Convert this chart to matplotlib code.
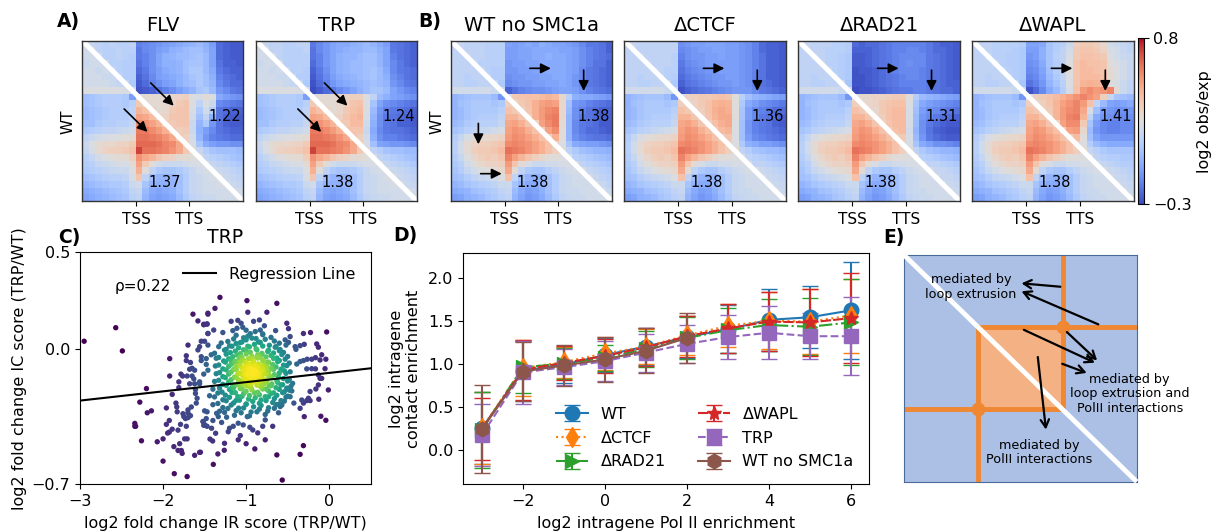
import numpy as np
import matplotlib
matplotlib.use("Agg")
import matplotlib.pyplot as plt
from matplotlib.cm import ScalarMappable
from matplotlib.colors import Normalize

W, H = 1217, 531

# contact maps, log2 obs/exp x100, 24 x 24 bins. lower = rows incl. diagonal, upper = right of diagonal
lower_a = [
    [22],
    [20, 22],
    [20, 20, 22],
    [18, 20, 20, 20],
    [20, 20, 18, 20, 18],
    [20, 20, 20, 18, 18, 18],
    [20, 20, 20, 20, 18, 16, 16],
    [24, 24, 24, 24, 24, 24, 22, 20],
    [4, 6, 8, 10, 10, 10, 8, -8, 22],
    [4, 6, 8, 10, 10, 10, 8, 12, 36, 30],
    [2, 4, 6, 8, 10, 10, 10, 14, 44, 40, 34],
    [2, 4, 6, 8, 10, 10, 10, 14, 50, 48, 42, 34],
    [4, 4, 8, 10, 10, 12, 12, 16, 56, 54, 50, 44, 36],
    [8, 10, 12, 14, 14, 16, 18, 20, 60, 60, 56, 52, 46, 38],
    [14, 18, 20, 22, 24, 24, 26, 28, 62, 62, 60, 58, 54, 48, 38],
    [18, 24, 28, 30, 30, 32, 32, 36, 64, 64, 64, 62, 58, 56, 48, 36],
    [16, 22, 28, 32, 34, 34, 36, 40, 72, 62, 62, 60, 58, 54, 48, 36, 30],
    [12, 16, 20, 24, 26, 28, 28, 34, 54, 48, 44, 38, 34, 32, 28, 28, 26, 24],
    [10, 12, 16, 18, 20, 22, 22, 28, 50, 36, 26, 20, 18, 18, 18, 20, 22, 22, 22],
    [8, 10, 12, 14, 16, 18, 18, 24, 46, 26, 14, 8, 6, 6, 8, 12, 16, 20, 22, 22],
    [4, 6, 8, 10, 12, 12, 14, 22, 38, 14, 4, 0, 0, 0, 4, 10, 16, 18, 20, 22, 22],
    [0, 2, 4, 6, 8, 8, 10, 18, 20, 6, 0, -2, -2, 0, 4, 10, 16, 18, 20, 20, 22, 22],
    [-4, -2, 0, 2, 4, 6, 8, 14, 16, 2, -4, -6, -4, -2, 4, 10, 16, 18, 20, 20, 20, 20, 22],
    [-6, -4, -2, 0, 2, 4, 6, 12, 14, 0, -6, -8, -6, -4, 2, 8, 14, 16, 18, 18, 20, 20, 20, 22],
]
lower_b = [
    [16],
    [14, 16],
    [14, 14, 16],
    [14, 14, 14, 16],
    [14, 14, 14, 14, 16],
    [14, 14, 12, 14, 14, 16],
    [14, 14, 12, 12, 14, 14, 18],
    [20, 20, 20, 20, 20, 20, 18, 18],
    [0, 2, 4, 6, 6, 6, 2, -10, 24],
    [0, 4, 6, 8, 8, 8, 6, 8, 34, 30],
    [0, 2, 6, 8, 8, 8, 8, 12, 40, 36, 32],
    [0, 2, 6, 8, 10, 10, 10, 14, 44, 44, 38, 32],
    [2, 4, 8, 10, 12, 12, 12, 16, 48, 50, 46, 38, 32],
    [6, 8, 12, 14, 16, 18, 20, 22, 50, 54, 52, 46, 40, 34],
    [10, 16, 22, 26, 28, 30, 30, 32, 52, 56, 54, 50, 46, 40, 34],
    [12, 20, 28, 32, 34, 34, 36, 38, 56, 58, 56, 54, 50, 46, 40, 32],
    [12, 20, 28, 34, 36, 36, 38, 42, 62, 60, 58, 54, 50, 46, 40, 34, 28],
    [10, 16, 24, 30, 34, 36, 34, 38, 58, 50, 44, 38, 34, 30, 26, 26, 24, 24],
    [8, 12, 20, 26, 30, 32, 32, 34, 52, 38, 28, 22, 18, 18, 20, 20, 22, 22, 22],
    [6, 10, 16, 20, 24, 26, 28, 30, 48, 28, 14, 8, 6, 6, 10, 14, 18, 20, 22, 22],
    [4, 6, 10, 14, 16, 18, 20, 24, 40, 14, 4, 0, -2, 0, 4, 10, 16, 18, 20, 20, 22],
    [0, 2, 6, 8, 10, 12, 14, 18, 18, 6, 0, -4, -4, 0, 4, 10, 16, 18, 20, 20, 20, 22],
    [-4, -2, 0, 4, 6, 8, 10, 14, 16, 2, -4, -8, -6, -2, 4, 10, 16, 18, 18, 20, 20, 20, 22],
    [-8, -6, -2, 0, 2, 6, 8, 12, 14, 0, -6, -10, -8, -4, 2, 8, 14, 16, 18, 18, 20, 20, 20, 22],
]
upper_flv = [
    [16, 14, 12, 14, 12, 12, 14, -16, -14, -12, -10, -8, -6, -4, -2, 0, 2, -2, -8, -22, -24, -26, -26],
    [14, 12, 12, 14, 12, 12, -18, -14, -12, -8, -6, -2, 0, 2, 4, 4, 0, -6, -22, -24, -26, -26],
    [12, 12, 14, 12, 10, -18, -16, -12, -6, -2, 0, 2, 2, 4, 6, 2, -6, -22, -24, -26, -26],
    [12, 12, 10, 10, -20, -16, -12, -6, -2, -2, 0, 4, 6, 6, 2, -6, -20, -24, -24, -26],
    [12, 10, 10, -22, -18, -12, -8, -4, -2, 0, 4, 8, 8, 2, -4, -18, -22, -24, -24],
    [10, 10, -24, -20, -14, -8, -6, -4, -2, 2, 6, 8, 4, -2, -16, -20, -22, -24],
    [8, -26, -22, -16, -12, -8, -6, -2, 2, 4, 8, 4, 0, -14, -18, -22, -22],
    [-28, -26, -24, -20, -16, -12, -8, -4, 0, 6, 8, 2, -10, -14, -18, -20],
    [28, 28, 28, 28, 30, 32, 34, 24, 22, 28, 24, -4, -8, -10, -12],
    [28, 28, 30, 32, 36, 38, 24, 14, 24, 18, -14, -16, -18, -20],
    [28, 30, 36, 38, 38, 22, 8, 20, 10, -20, -22, -24, -24],
    [32, 38, 38, 38, 20, 4, 14, -2, -20, -24, -26, -26],
    [36, 38, 38, 18, 0, 8, -10, -20, -24, -26, -26],
    [34, 36, 18, -2, -8, -14, -20, -22, -24, -24],
    [32, 20, 0, -10, -16, -18, -20, -22, -22],
    [22, 6, -4, -8, -10, -10, -12, -12],
    [16, 10, 6, 4, 4, 4, 2],
    [14, 12, 10, 8, 6, 4],
    [16, 14, 12, 10, 8],
    [18, 16, 14, 12],
    [18, 16, 14],
    [18, 16],
    [20],
    [],
]
upper_trp = [
    [16, 14, 14, 12, 12, 14, 14, -18, -14, -10, -6, -4, -4, -2, 0, 2, 0, -4, -8, -18, -20, -22, -24],
    [14, 14, 12, 12, 12, 14, -20, -14, -10, -6, -4, -2, 0, 0, 2, 2, -2, -6, -18, -20, -22, -24],
    [14, 12, 12, 12, 12, -20, -16, -10, -6, -2, 0, 0, 2, 4, 4, 0, -6, -16, -20, -22, -24],
    [12, 12, 12, 12, -22, -16, -10, -6, -2, 0, 2, 2, 4, 4, 0, -6, -14, -18, -22, -24],
    [12, 12, 10, -24, -18, -12, -6, -2, 0, 2, 2, 4, 6, 2, -4, -14, -18, -20, -22],
    [10, 10, -26, -20, -14, -8, -4, -2, 0, 2, 4, 6, 2, -2, -12, -16, -20, -22],
    [8, -28, -22, -16, -10, -6, -4, -2, 0, 2, 4, 2, 0, -10, -14, -18, -20],
    [-30, -26, -22, -18, -14, -10, -6, -2, 2, 6, 6, 2, -6, -10, -14, -16],
    [28, 28, 28, 30, 32, 34, 34, 24, 14, 2, -2, -6, -8, -10, -12],
    [28, 28, 30, 34, 38, 40, 24, 6, -6, -12, -14, -16, -18, -20],
    [28, 30, 36, 40, 42, 24, 2, -10, -16, -18, -20, -22, -24],
    [32, 38, 42, 44, 22, 0, -12, -18, -20, -22, -24, -26],
    [36, 42, 42, 20, -2, -12, -18, -20, -24, -24, -26],
    [38, 38, 18, -4, -14, -18, -20, -20, -22, -24],
    [34, 20, -2, -12, -16, -16, -18, -20, -22],
    [22, 4, -6, -8, -10, -10, -12, -14],
    [14, 10, 6, 4, 4, 2, 2],
    [14, 12, 10, 8, 6, 4],
    [16, 14, 12, 10, 8],
    [18, 16, 14, 12],
    [18, 16, 14],
    [18, 16],
    [20],
    [],
]
upper_nosmc = [
    [16, 14, 14, 14, 12, 12, 12, -6, -8, -6, -4, -6, -2, -4, -6, -6, -8, -10, -14, -18, -18, -20, -24],
    [14, 14, 14, 12, 12, 12, -8, -8, -6, -6, -4, -4, -4, -4, -6, -6, -8, -12, -16, -18, -20, -24],
    [14, 14, 12, 12, 12, -8, -8, -6, -6, -4, -4, -2, -4, -4, -6, -8, -12, -16, -18, -20, -22],
    [12, 12, 12, 12, -10, -8, -8, -6, -6, -4, -4, -4, -4, -6, -8, -12, -16, -20, -20, -24],
    [12, 10, 10, -10, -10, -8, -8, -6, -6, -4, -4, -4, -6, -8, -14, -18, -20, -22, -24],
    [10, 10, -12, -10, -10, -8, -8, -6, -6, -4, -4, -6, -10, -14, -18, -20, -22, -24],
    [8, -14, -12, -10, -10, -8, -8, -6, -6, -4, -6, -10, -14, -18, -20, -22, -24],
    [-24, -20, -16, -14, -12, -12, -10, -8, -6, -6, -8, -12, -16, -18, -20, -22],
    [36, 38, 40, 40, 42, 44, 42, 30, 12, -2, -4, -4, -6, -8, -10],
    [36, 40, 46, 50, 52, 50, 30, 4, -10, -12, -16, -18, -20, -22],
    [38, 46, 52, 56, 58, 30, 2, -12, -16, -20, -22, -24, -24],
    [46, 52, 58, 60, 30, 0, -12, -18, -20, -22, -24, -24],
    [50, 56, 60, 28, 0, -14, -18, -20, -22, -26, -26],
    [50, 56, 26, 0, -14, -18, -22, -22, -24, -26],
    [46, 26, 0, -12, -16, -18, -20, -20, -22],
    [24, 6, -4, -6, -8, -8, -10, -12],
    [14, 8, 4, 2, 0, 0, -2],
    [12, 10, 8, 6, 4, 2],
    [14, 12, 10, 8, 6],
    [16, 14, 12, 10],
    [16, 14, 12],
    [18, 14],
    [18],
    [],
]
upper_ctcf = [
    [16, 14, 14, 14, 14, 14, 14, -12, -10, -8, -8, -6, -6, -6, -8, -8, -10, -12, -16, -22, -24, -24, -26],
    [14, 14, 14, 14, 14, 14, -14, -12, -10, -8, -8, -6, -6, -8, -8, -10, -12, -16, -22, -24, -24, -26],
    [14, 14, 14, 14, 12, -16, -12, -10, -10, -8, -8, -6, -8, -8, -10, -12, -16, -20, -24, -24, -26],
    [14, 14, 14, 12, -18, -14, -12, -10, -8, -8, -8, -8, -8, -10, -12, -16, -20, -24, -24, -26],
    [14, 12, 12, -20, -16, -14, -12, -10, -10, -8, -8, -8, -10, -12, -16, -20, -24, -24, -26],
    [12, 10, -22, -18, -16, -14, -12, -10, -10, -8, -8, -10, -12, -16, -20, -24, -24, -26],
    [8, -24, -20, -18, -16, -14, -12, -10, -10, -8, -10, -12, -16, -20, -22, -24, -26],
    [-28, -24, -22, -20, -18, -16, -14, -12, -10, -10, -10, -14, -18, -20, -22, -24],
    [32, 34, 36, 36, 38, 40, 38, 26, 12, 4, 0, -2, -4, -6, -8],
    [32, 36, 40, 44, 46, 44, 26, 8, -4, -8, -12, -14, -16, -18],
    [34, 40, 46, 48, 46, 26, 6, -8, -14, -16, -18, -22, -22],
    [38, 44, 48, 48, 26, 6, -8, -14, -18, -20, -22, -24],
    [40, 46, 48, 24, 4, -10, -16, -18, -20, -24, -26],
    [42, 44, 24, 4, -10, -16, -18, -20, -22, -24],
    [38, 24, 4, -8, -14, -16, -18, -20, -22],
    [24, 8, -2, -4, -8, -8, -10, -12],
    [14, 10, 6, 4, 2, 2, 0],
    [14, 12, 10, 8, 6, 4],
    [14, 14, 12, 10, 8],
    [18, 16, 14, 12],
    [18, 16, 14],
    [18, 16],
    [18],
    [],
]
upper_rad21 = [
    [16, 14, 14, 14, 12, 12, 10, -22, -24, -22, -22, -20, -18, -16, -16, -16, -16, -16, -18, -22, -24, -24, -26],
    [14, 14, 12, 12, 12, 10, -24, -24, -24, -22, -20, -18, -16, -16, -14, -14, -16, -18, -22, -22, -24, -26],
    [14, 12, 12, 10, 8, -26, -26, -24, -22, -20, -18, -16, -14, -14, -14, -14, -18, -20, -22, -24, -26],
    [12, 12, 10, 8, -26, -26, -24, -22, -20, -18, -16, -14, -12, -14, -14, -18, -20, -22, -24, -26],
    [12, 10, 8, -28, -26, -26, -24, -22, -18, -16, -14, -14, -14, -16, -18, -20, -22, -24, -26],
    [10, 8, -28, -28, -26, -24, -22, -20, -18, -16, -14, -14, -16, -18, -20, -22, -24, -26],
    [6, -28, -28, -26, -24, -22, -20, -18, -16, -16, -16, -16, -18, -20, -22, -24, -24],
    [-30, -28, -28, -26, -24, -22, -20, -18, -18, -16, -16, -18, -20, -22, -22, -24],
    [30, 30, 32, 32, 34, 36, 36, 26, 10, 2, 0, -2, -4, -6, -8],
    [30, 32, 36, 38, 40, 40, 24, 6, -4, -8, -10, -12, -14, -16],
    [30, 36, 40, 42, 42, 22, 4, -8, -12, -14, -16, -18, -20],
    [34, 40, 42, 42, 22, 2, -10, -14, -18, -20, -22, -24],
    [38, 42, 42, 22, 2, -12, -18, -22, -24, -26, -26],
    [40, 42, 20, 0, -12, -20, -24, -26, -28, -28],
    [36, 22, 2, -10, -18, -22, -24, -26, -26],
    [22, 6, -4, -8, -12, -12, -14, -16],
    [14, 8, 4, 2, 0, 0, -2],
    [12, 10, 8, 6, 4, 2],
    [14, 14, 12, 10, 8],
    [16, 16, 14, 12],
    [16, 16, 14],
    [18, 16],
    [18],
    [],
]
upper_wapl = [
    [14, 14, 12, 12, 12, 12, 10, -6, -6, -4, 6, 10, 12, 18, 34, 36, 36, 34, 30, 20, 18, 16, 14],
    [14, 12, 12, 12, 10, 8, -8, -8, -2, 6, 10, 14, 20, 36, 38, 38, 36, 32, 22, 20, 16, 14],
    [12, 12, 10, 10, 8, -10, -8, -2, 6, 12, 14, 22, 36, 40, 40, 38, 36, 24, 20, 18, 16],
    [12, 10, 10, 8, -12, -10, -4, 6, 10, 14, 24, 38, 42, 40, 40, 38, 26, 22, 20, 16],
    [12, 10, 8, -14, -12, -6, 4, 10, 14, 26, 38, 42, 42, 40, 38, 28, 24, 20, 16],
    [10, 8, -16, -14, -8, 2, 8, 14, 24, 38, 42, 42, 42, 40, 28, 24, 20, 16],
    [6, -20, -16, -10, 0, 6, 12, 24, 38, 44, 46, 44, 42, 26, 22, 18, 14],
    [-28, -22, -14, -4, 2, 10, 22, 40, 52, 56, 52, 54, 58, 28, 18, 14],
    [34, 36, 38, 42, 46, 50, 54, 58, 54, 50, 34, 16, 6, 4, 2],
    [34, 38, 44, 50, 54, 58, 52, 40, 14, 2, -6, -8, -6, -4],
    [36, 44, 52, 56, 58, 48, 22, 4, -8, -10, -12, -12, -10],
    [44, 52, 58, 60, 44, 14, -4, -10, -12, -14, -14, -12],
    [50, 56, 56, 36, 6, -8, -14, -16, -16, -14, -14],
    [50, 52, 30, 2, -10, -14, -16, -16, -14, -14],
    [42, 26, 4, -6, -10, -10, -10, -10, -10],
    [24, 10, 2, -2, -4, -4, -4, -4],
    [16, 12, 8, 6, 6, 6, 6],
    [14, 12, 10, 10, 8, 8],
    [16, 14, 12, 10, 10],
    [18, 16, 14, 12],
    [18, 16, 14],
    [18, 16],
    [18],
    [],
]

panel_a_titles = ["FLV", "TRP"]
panel_a_scores = [(1.37, 1.22), (1.38, 1.24)]
panel_b_titles = ["WT no SMC1a", "ΔCTCF", "ΔRAD21", "ΔWAPL"]
panel_b_scores = [(1.38, 1.38), (1.38, 1.36), (1.38, 1.31), (1.38, 1.41)]

outer_x = [
    -2.95, -2.57, -2.49, -1.64, -1.46, -1.58, -1.51, -1.47, -1.46, -1.70, -1.92, -1.72, -1.92, -2.2, -2.28, -2.14,
    -2.19, -1.89, -1.96, -2.34, -2.34, -2.33, -2.26, -2.07, -2.0, -1.925, -1.96, -1.89, -1.945, -1.925, -1.82, -1.79,
    -1.72, -1.845, -1.835, -1.83, -1.76, -1.75, -1.73, -1.67, -1.70, -1.70, -1.70, -1.66, -1.60, -1.87, -1.80, -1.82,
    -1.78, -1.77, -1.74, -1.71, -2.0, -1.62, -1.56, -1.865, -1.71, -1.52, -1.48, -1.51, -1.47, -1.5, -1.47, -1.81,
    -1.81, -1.785, -1.765, -1.72, -1.67, -1.68, -1.65, -1.62, -1.71, -1.65, -1.63, -1.68, -1.62, -1.56, -1.61, -1.61,
    -1.59, -1.56, -1.58, -1.56, -1.54, -1.5, -1.46, -1.54, -1.54, -1.48, -1.51, -1.46, -1.48,
    -1.315, -0.99, -0.63, -1.375, -1.46, -0.98, -0.75, -1.51, -1.47, -1.18, -1.10, -1.06, -0.91, -0.84, -0.78, -0.51,
    -0.49, -1.39, -1.46, -1.28, -1.16, -1.11, -1.04, -0.83, -0.645, -0.31, -0.225, -0.03, -0.47, -0.53, -0.49, -0.52,
    -0.15, -0.13, -0.30, -0.35, -0.41, -0.40, -0.09, -0.04, -0.11, -0.165, -0.21, -0.265, -0.31, -0.35, -0.39, -0.27,
    -0.21, -0.165, -0.05, -0.13, -0.11, -0.09, -0.13, -0.16, -0.23, -0.01, -0.25, -0.27, -0.31, -0.125, -0.35, -0.23,
    -0.33, -0.1, -0.04, -0.30, -0.425, -0.47, -0.45, -0.505, -0.57, -0.59, -0.61, -0.68, -0.80, -0.77, -0.31, -0.35,
    -0.63, -0.77, -0.86, -0.895, -1.0, -1.095, -1.07, -0.565, -1.395, -1.34, -1.263, -1.26, -1.55, -1.435, -1.403,
    -1.155, -1.2, -1.215, -1.095, -1.035, -0.986, -0.955, -0.92, -1.367, -1.416, -1.496, -1.516, -1.355, -1.295,
    -1.335, -1.235, -1.40,
]
outer_y = [
    0.04, 0.11, -0.01, 0.18, 0.18, 0.145, 0.125, 0.13, 0.08, 0.02, -0.05, -0.035, -0.14, -0.205, -0.275, -0.32,
    -0.33, -0.235, -0.305, -0.385, -0.40, -0.40, -0.475, -0.48, -0.465, -0.37, -0.39, -0.415, -0.435, -0.43, -0.42, -0.39,
    -0.40, -0.28, -0.30, -0.325, -0.335, -0.35, -0.36, -0.345, -0.355, -0.315, -0.33, -0.30, -0.28, -0.505, -0.49, -0.525,
    -0.525, -0.54, -0.465, -0.465, -0.58, -0.55, -0.535, -0.645, -0.66, -0.375, -0.36, -0.395, -0.40, -0.32, -0.325, -0.2,
    -0.17, -0.13, -0.14, -0.06, -0.07, -0.105, -0.10, -0.11, -0.14, -0.14, -0.155, -0.18, -0.18, -0.17, -0.21, -0.23,
    -0.255, -0.18, -0.005, 0.012, 0.04, 0.04, 0.02, -0.04, -0.06, -0.05, -0.13, -0.11, -0.08,
    0.267, 0.25, 0.236, 0.21, 0.185, 0.19, 0.19, 0.128, 0.128, 0.143, 0.148, 0.133, 0.143, 0.15, 0.12, 0.133,
    0.105, 0.098, 0.08, 0.085, 0.095, 0.107, 0.112, 0.098, 0.095, 0.08, 0.085, 0.088, 0.064, 0.047, 0.034, 0.02,
    0.026, 0.009, 0.024, 0.017, 0.012, -0.002, -0.03, -0.053, -0.057, -0.045, -0.053, -0.053, -0.06, -0.065, -0.078, -0.103,
    -0.102, -0.103, -0.102, -0.134, -0.152, -0.152, -0.186, -0.207, -0.22, -0.212, -0.255, -0.267, -0.28, -0.26, -0.307, -0.267,
    -0.264, -0.348, -0.369, -0.35, -0.28, -0.247, -0.217, -0.203, -0.29, -0.298, -0.33, -0.40, -0.40, -0.367, -0.5, -0.545,
    -0.548, -0.47, -0.434, -0.517, -0.49, -0.47, -0.448, -0.678, -0.597, -0.543, -0.524, -0.488, -0.534, -0.466, -0.476,
    -0.40, -0.41, -0.428, -0.384, -0.393, -0.35, -0.405, -0.419, -0.436, -0.41, -0.393, -0.376, -0.333, -0.38,
    -0.35, -0.353, -0.37,
]
core_x = [
    -0.89, -0.80, -1.0, -1.12, -1.03, -0.98, -0.95, -0.88, -0.80, -0.70, -1.22, -1.15, -1.07, -1.0, -0.93, -0.85,
    -0.77, -0.66, -0.60, -1.30, -1.20, -1.12, -1.05, -0.98, -0.90, -0.83, -0.72, -0.64, -1.33, -1.24, -1.17, -1.09,
    -1.03, -0.96, -0.88, -0.80, -0.73, -0.65, -0.59, -1.38, -1.26, -1.19, -1.13, -1.07, -1.0, -0.95, -0.87, -0.81,
    -0.74, -0.67, -0.60, -0.55, -1.42, -1.33, -1.24, -1.16, -1.11, -1.05, -1.0, -0.93, -0.87, -0.81, -0.76, -0.70,
    -0.63, -0.57, -0.50, -1.36, -1.27, -1.21, -1.14, -1.08, -1.03, -0.97, -0.92, -0.86, -0.80, -0.73, -0.67, -0.60,
    -0.53, -1.33, -1.25, -1.18, -1.12, -1.07, -1.01, -0.96, -0.91, -0.85, -0.79, -0.74, -0.68, -0.62, -0.55, -0.48,
    -1.37, -1.28, -1.21, -1.15, -1.10, -1.05, -1.0, -0.95, -0.90, -0.85, -0.80, -0.75, -0.70, -0.64, -0.58, -0.51,
    -1.32, -1.24, -1.18, -1.12, -1.07, -1.02, -0.97, -0.93, -0.89, -0.84, -0.79, -0.73, -0.67, -0.60, -0.54, -0.47,
    -1.36, -1.28, -1.21, -1.14, -1.09, -1.04, -1.0, -0.96, -0.92, -0.88, -0.83, -0.78, -0.72, -0.66, -0.61, -0.52,
    -1.33, -1.25, -1.18, -1.12, -1.07, -1.02, -0.98, -0.94, -0.90, -0.85, -0.81, -0.76, -0.70, -0.63, -0.55, -0.48,
    -1.38, -1.28, -1.21, -1.15, -1.09, -1.04, -1.0, -0.95, -0.91, -0.86, -0.81, -0.75, -0.69, -0.62, -0.56, -0.50,
    -0.44, -1.32, -1.24, -1.17, -1.11, -1.05, -1.0, -0.94, -0.87, -0.82, -0.76, -0.70, -0.64, -0.58, -0.51, -0.46,
    -1.40, -1.29, -1.20, -1.13, -1.07, -1.0, -0.93, -0.86, -0.80, -0.73, -0.67, -0.60, -0.54, -0.48, -1.44, -1.34,
    -1.25, -1.17, -1.10, -1.03, -0.96, -0.90, -0.84, -0.77, -0.70, -0.63, -0.56, -0.50, -1.38, -1.28, -1.20, -1.12,
    -1.05, -0.97, -0.89, -0.82, -0.73, -0.66, -0.58, -0.52, -1.34, -1.24, -1.15, -1.08, -1.0, -0.92, -0.84, -0.76,
    -0.68, -0.61, -0.54, -1.40, -1.28, -1.18, -1.09, -1.0, -0.91, -0.82, -0.73, -0.64, -1.32, -1.22, -1.12, -1.03,
    -0.94, -0.84, -0.74, -0.66, -1.26, -1.14, -1.06, -0.96, -0.87, -0.77,
    -1.18, -1.13, -1.09, -1.06, -1.02, -0.99, -0.96, -0.93, -0.9, -0.86, -0.82, -0.78, -0.74, -0.7, -1.15, -1.1,
    -1.05, -1.01, -0.97, -0.94, -0.91, -0.87, -0.84, -0.8, -0.76, -0.72, -1.12, -1.07, -1.03, -0.98, -0.95, -0.92,
    -0.88, -0.85, -0.83, -0.79, -0.75, -1.08, -1.04, -0.99, -0.93, -0.89, -0.86, -0.81, -1.0, -0.97, -0.92, -0.88,
]
core_y = [
    0.09, 0.078, 0.097,
    0.071, 0.058, 0.066, 0.079, 0.054, 0.074, 0.06,
    0.039, 0.052, 0.033, 0.047, 0.056, 0.036, 0.05, 0.041, 0.03,
    0.031, 0.016, 0.028, 0.036, 0.014, 0.024, 0.034, 0.019, 0.012,
    0.012, -0.002, 0.014, 0.006, -0.004, 0.011, 0.001, 0.015, -0.006, 0.009, -0.003,
    -0.022, -0.006, -0.019, -0.011, -0.024, -0.008, -0.017, -0.005, -0.023, -0.013, -0.021, -0.009, -0.018,
    -0.03, -0.044, -0.027, -0.04, -0.031, -0.046, -0.026, -0.037, -0.043, -0.028, -0.041, -0.033, -0.047, -0.029, -0.039,
    -0.048, -0.062, -0.051, -0.066, -0.045, -0.059, -0.05, -0.064, -0.047, -0.057, -0.068, -0.049, -0.06, -0.053,
    -0.083, -0.068, -0.079, -0.064, -0.086, -0.071, -0.081, -0.067, -0.077, -0.087, -0.07, -0.08, -0.066, -0.084, -0.073,
    -0.088, -0.103, -0.09, -0.106, -0.085, -0.099, -0.092, -0.104, -0.087, -0.097, -0.107, -0.089, -0.101, -0.093, -0.105, -0.086,
    -0.122, -0.108, -0.119, -0.105, -0.126, -0.111, -0.121, -0.107, -0.117, -0.127, -0.11, -0.12, -0.106, -0.124, -0.113, -0.118,
    -0.128, -0.143, -0.13, -0.146, -0.125, -0.139, -0.132, -0.144, -0.127, -0.137, -0.147, -0.129, -0.141, -0.133, -0.145, -0.126,
    -0.162, -0.148, -0.159, -0.145, -0.166, -0.151, -0.161, -0.147, -0.157, -0.167, -0.15, -0.16, -0.146, -0.164, -0.153, -0.158,
    -0.168, -0.183, -0.17, -0.186, -0.165, -0.179, -0.172, -0.184, -0.167, -0.177, -0.187, -0.169, -0.181, -0.173, -0.185, -0.166, -0.178,
    -0.202, -0.188, -0.199, -0.185, -0.206, -0.191, -0.201, -0.187, -0.197, -0.207, -0.19, -0.2, -0.186, -0.204, -0.193,
    -0.208, -0.223, -0.21, -0.226, -0.205, -0.219, -0.212, -0.224, -0.207, -0.217, -0.227, -0.209, -0.221, -0.213,
    -0.242, -0.228, -0.239, -0.225, -0.246, -0.231, -0.241, -0.227, -0.237, -0.247, -0.23, -0.24, -0.226, -0.244,
    -0.248, -0.263, -0.25, -0.266, -0.245, -0.259, -0.252, -0.264, -0.247, -0.257, -0.267, -0.249,
    -0.282, -0.268, -0.279, -0.265, -0.286, -0.271, -0.281, -0.267, -0.277, -0.287, -0.27,
    -0.288, -0.303, -0.29, -0.306, -0.285, -0.299, -0.292, -0.304, -0.287,
    -0.322, -0.308, -0.319, -0.305, -0.326, -0.311, -0.321, -0.307,
    -0.328, -0.343, -0.33, -0.346, -0.325, -0.339,
    -0.06, -0.105, -0.16, -0.04, -0.125, -0.075, -0.195, -0.05, -0.165, -0.03, -0.115, -0.18, -0.07, -0.145, -0.2, -0.13,
    -0.06, -0.15, -0.09, -0.18, -0.07, -0.12, -0.04, -0.16, -0.1, -0.19, -0.09, -0.19, -0.1, -0.13, -0.1, -0.16,
    -0.09, -0.14, -0.19, -0.065, -0.13, -0.07, -0.17, -0.105, -0.125, -0.105, -0.16, -0.09, -0.15, -0.12, -0.115, -0.13,
]
regression_x = [-3, 0.5]
regression_y = [-0.267, -0.10]

# panel D
polii_bins = [-3, -2, -1, 0, 1, 2, 3, 4, 5, 6]
polii_bins_short = [-3, -2, -1, 0, 1, 2]
wt_mean = [0.25, 0.92, 0.99, 1.10, 1.20, 1.31, 1.40, 1.51, 1.54, 1.62]
wt_err = [0.42, 0.35, 0.21, 0.20, 0.21, 0.24, 0.28, 0.36, 0.36, 0.56]
ctcf_mean = [0.25, 0.95, 1.02, 1.12, 1.20, 1.33, 1.44, 1.50, 1.49, 1.56]
ctcf_err = [0.42, 0.33, 0.18, 0.19, 0.20, 0.23, 0.25, 0.33, 0.38, 0.43]
rad21_mean = [0.23, 0.96, 1.00, 1.07, 1.17, 1.30, 1.39, 1.45, 1.43, 1.48]
rad21_err = [0.44, 0.30, 0.18, 0.15, 0.21, 0.24, 0.26, 0.30, 0.33, 0.50]
wapl_mean = [0.24, 0.93, 1.01, 1.09, 1.19, 1.32, 1.41, 1.49, 1.48, 1.53]
wapl_err = [0.36, 0.35, 0.20, 0.20, 0.22, 0.24, 0.28, 0.34, 0.39, 0.52]
trp_mean = [0.17, 0.90, 0.96, 1.03, 1.13, 1.23, 1.31, 1.36, 1.32, 1.32]
trp_err = [0.36, 0.37, 0.21, 0.23, 0.22, 0.22, 0.26, 0.31, 0.27, 0.45]
nosmc_mean = [0.24, 0.91, 0.98, 1.05, 1.15, 1.30]
nosmc_err = [0.51, 0.34, 0.24, 0.26, 0.26, 0.29]


def px_axes(left, top, right, bottom):
    return fig.add_axes([left / W, 1 - bottom / H, (right - left) / W, (bottom - top) / H])


def build_map(lower, upper):
    m = np.full((24, 24), np.nan)
    for r, row in enumerate(lower):
        m[r, :r + 1] = row
    for r, row in enumerate(upper):
        m[r, r + 1:] = row
    return m / 100.0


def arrow(ax, x0, y0, x1, y1):
    ax.annotate("", xy=(x1, y1), xytext=(x0, y0), xycoords="axes fraction", textcoords="axes fraction",
                arrowprops=dict(arrowstyle="-|>,head_length=0.6,head_width=0.3", color="black", lw=1.2,
                                shrinkA=0, shrinkB=0))


def draw_map(ax, lower, upper, title, scores):
    ax.imshow(build_map(lower, upper), cmap="coolwarm", vmin=-0.3, vmax=0.8, extent=(0, 1, 0, 1),
              interpolation="nearest", aspect="auto")
    ax.plot([0, 1], [1, 0], color="white", lw=3.6, solid_capstyle="butt")
    ax.set_xlim(0, 1)
    ax.set_ylim(0, 1)
    ax.set_xticks([0.335, 0.665])
    ax.set_xticklabels(["TSS", "TTS"], fontsize=11)
    ax.set_yticks([])
    ax.tick_params(axis="x", length=3.5, pad=4)
    ax.set_title(title, fontsize=14, pad=7)
    ax.text(0.509, 0.116, f"{scores[0]:.2f}", transform=ax.transAxes, ha="center", va="center", fontsize=10.5)
    ax.text(0.888, 0.527, f"{scores[1]:.2f}", transform=ax.transAxes, ha="center", va="center", fontsize=10.5)
    for s in ax.spines.values():
        s.set_linewidth(1)
        s.set_color("#333333")


fig = plt.figure(figsize=(W / 100, H / 100), dpi=100)
plt.rcParams["font.family"] = "DejaVu Sans"

# A
a_boxes = [(82.3, 243.3), (256, 417)]
a_maps = [upper_flv, upper_trp]
for i, (l, r) in enumerate(a_boxes):
    ax = px_axes(l, 40.7, r, 201.3)
    draw_map(ax, lower_a, a_maps[i], panel_a_titles[i], panel_a_scores[i])
    arrow(ax, 0.425, 0.737, 0.568, 0.595)
    arrow(ax, 0.26, 0.575, 0.405, 0.432)

# B
b_boxes = [(451, 612), (624.3, 785.7), (798.3, 960), (972.3, 1133.7)]
b_maps = [upper_nosmc, upper_ctcf, upper_rad21, upper_wapl]
for i, (l, r) in enumerate(b_boxes):
    ax = px_axes(l, 40.7, r, 201.3)
    draw_map(ax, lower_b, b_maps[i], panel_b_titles[i], panel_b_scores[i])
    arrow(ax, 0.49, 0.828, 0.62, 0.828)
    arrow(ax, 0.824, 0.817, 0.824, 0.687)
    if i == 0:
        arrow(ax, 0.17, 0.485, 0.17, 0.355)
        arrow(ax, 0.184, 0.172, 0.315, 0.172)

# colorbar
cax = px_axes(1138, 38.3, 1144, 204)
cb = fig.colorbar(ScalarMappable(Normalize(-0.3, 0.8), "coolwarm"), cax=cax)
cb.set_ticks([-0.3, 0.8])
cb.set_ticklabels(["−0.3", "0.8"])
cb.ax.tick_params(labelsize=11.5, length=3.5, pad=3)
cb.set_label("log2 obs/exp", fontsize=11.5, labelpad=4)

fig.text(68 / W, 1 - 122 / H, "WT", rotation=90, ha="center", va="center", fontsize=11)
fig.text(437 / W, 1 - 122 / H, "WT", rotation=90, ha="center", va="center", fontsize=11)
for label, x, y in [("A)", 57, 22), ("B)", 418, 22), ("C)", 58, 237), ("D)", 393, 236), ("E)", 883, 237)]:
    fig.text(x / W, 1 - y / H, label, fontweight="bold", fontsize=13.5, ha="left", va="center")

# C
ax = px_axes(80, 252.3, 370.7, 484.3)
sx = np.array(outer_x + core_x)
sy = np.array(outer_y + core_y)
# local point density for the colours
dens = np.exp(-0.5 * (((sx[:, None] - sx) / 0.19) ** 2 + ((sy[:, None] - sy) / 0.085) ** 2)).sum(axis=1)
order = np.argsort(dens)
ax.scatter(sx[order], sy[order], c=dens[order], cmap="viridis", s=15, linewidths=0)
ax.plot(regression_x, regression_y, color="black", lw=1.5, label="Regression Line")
ax.set_xlim(-3, 0.5)
ax.set_ylim(-0.7, 0.5)
ax.set_xticks([-3, -2, -1, 0])
ax.set_yticks([-0.7, 0, 0.5])
ax.set_yticklabels(["−0.7", "0.0", "0.5"])
ax.tick_params(labelsize=11.5, length=3.5)
ax.set_xlabel("log2 fold change IR score (TRP/WT)", fontsize=11.5, labelpad=5)
ax.set_ylabel("log2 fold change IC score (TRP/WT)", fontsize=11.5, labelpad=3)
ax.set_title("TRP", fontsize=13.5, pad=7)
ax.text(115 / W, 1 - 286 / H, "ρ=0.22", transform=fig.transFigure, fontsize=11, va="center")
ax.legend(loc="upper right", bbox_to_anchor=(0.98, 0.98), frameon=False, fontsize=11.5, handlelength=2.1, borderaxespad=0.2)

# D
ax = px_axes(463.3, 252.7, 869.3, 484.3)
series = [
    (polii_bins, wt_mean, wt_err, "WT", "o", "-", "tab:blue"),
    (polii_bins, ctcf_mean, ctcf_err, "ΔCTCF", "d", ":", "tab:orange"),
    (polii_bins, rad21_mean, rad21_err, "ΔRAD21", ">", "-.", "tab:green"),
    (polii_bins, wapl_mean, wapl_err, "ΔWAPL", "*", (0, (5, 1)), "tab:red"),
    (polii_bins, trp_mean, trp_err, "TRP", "s", "--", "tab:purple"),
    (polii_bins_short, nosmc_mean, nosmc_err, "WT no SMC1a", "h", "-", "tab:brown"),
]
for x, m, e, name, mk, ls, col in series:
    ax.errorbar(x, m, yerr=e, color=col, marker=mk, linestyle=ls, markersize=10.5, capsize=6, lw=1.5, label=name)
ax.set_xlim(-3.45, 6.45)
ax.set_ylim(-0.4, 2.29)
ax.set_xticks([-2, 0, 2, 4, 6])
ax.set_yticks([0, 0.5, 1, 1.5, 2])
ax.tick_params(labelsize=11.5, length=3.5)
ax.set_xlabel("log2 intragene Pol II enrichment", fontsize=11.5, labelpad=5)
ax.set_ylabel("log2 intragene\ncontact enrichment", fontsize=11.6, labelpad=5)
ax.legend(ncol=2, frameon=False, fontsize=11.5, loc="lower right", bbox_to_anchor=(0.997, 0.002),
          columnspacing=2.0, labelspacing=0.55, handlelength=2.0)

# E
ax = px_axes(904, 255, 1136.7, 481.7)
ax.set_facecolor("#abc0e4")
ax.set_xlim(0, 1)
ax.set_ylim(1, 0)
ax.set_xticks([])
ax.set_yticks([])
for s in ax.spines.values():
    s.set_color("#4a6a9a")
orange = "#ef8733"
ax.fill([0.319, 0.682, 0.682, 0.319], [0.316, 0.316, 0.68, 0.68], color="#f4b183", zorder=1)
ax.plot([0.682, 0.682], [0, 0.68], color=orange, lw=3.5, zorder=2, solid_capstyle="butt")
ax.plot([0.319, 1], [0.316, 0.316], color=orange, lw=3.5, zorder=2, solid_capstyle="butt")
ax.plot([0.319, 0.319], [0.316, 1], color=orange, lw=3.5, zorder=2, solid_capstyle="butt")
ax.plot([0, 0.682], [0.68, 0.68], color=orange, lw=3.5, zorder=2, solid_capstyle="butt")
ax.plot([0.682, 0.319], [0.316, 0.68], "o", color=orange, ms=9, zorder=3)
ax.plot([0, 1], [0, 1], color="white", lw=3.5, zorder=4, solid_capstyle="butt", clip_on=False)
for (x0, y0, x1, y1) in [(0.672, 0.14, 0.505, 0.125), (0.835, 0.306, 0.505, 0.16), (0.515, 0.33, 0.82, 0.475),
                         (0.70, 0.34, 0.83, 0.465), (0.68, 0.48, 0.785, 0.52), (0.575, 0.45, 0.61, 0.77)]:
    ax.annotate("", xy=(x1, y1), xytext=(x0, y0),
                arrowprops=dict(arrowstyle="->,head_length=0.55,head_width=0.3", color="black", lw=1.6,
                                shrinkA=0, shrinkB=0), zorder=5)
ax.text(0.287, 0.142, "mediated by\nloop extrusion", ha="center", va="center", fontsize=9.2, zorder=6, linespacing=1.15)
ax.text(0.97, 0.613, "mediated by\nloop extrusion and\nPolII interactions", ha="center", va="center",
        fontsize=9.2, zorder=6, linespacing=1.15, clip_on=False)
ax.text(0.58, 0.872, "mediated by\nPolII interactions", ha="center", va="center", fontsize=9.2, zorder=6,
        linespacing=1.15)

plt.savefig("out.png", dpi=100)
plt.close()
